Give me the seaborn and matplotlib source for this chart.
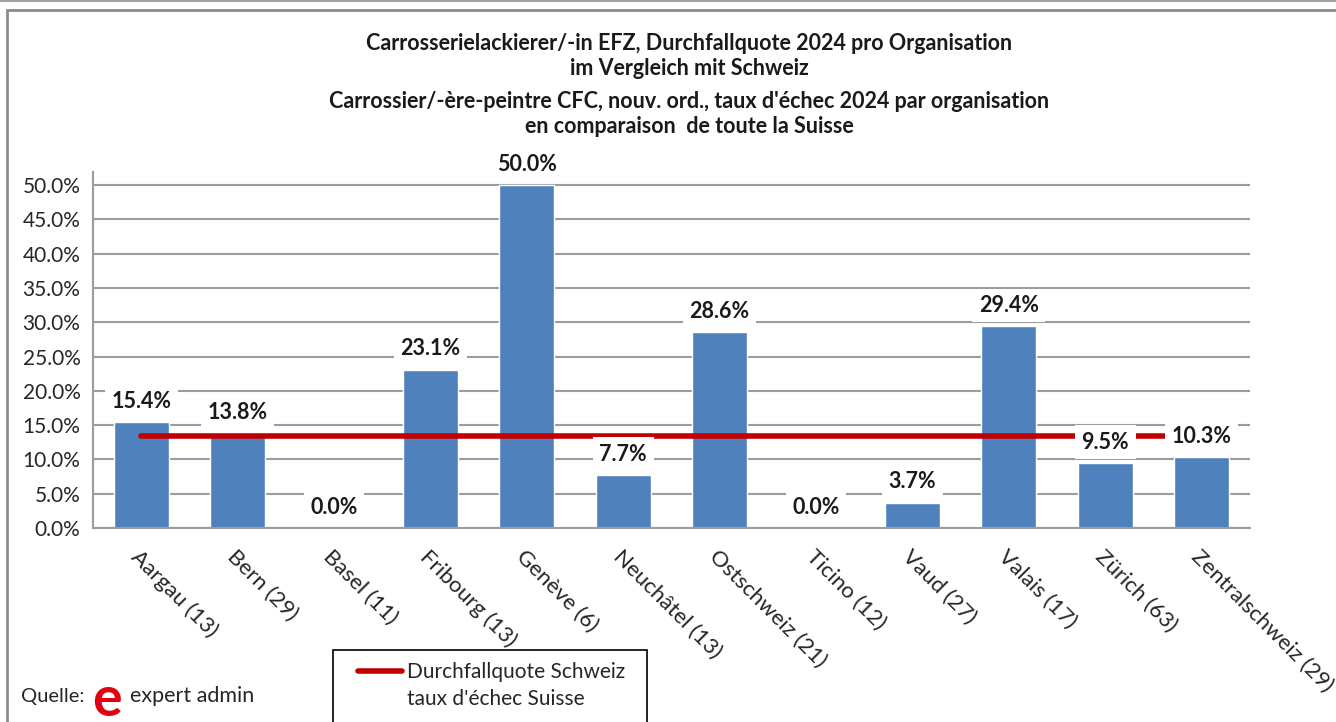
import matplotlib
matplotlib.use("Agg")
import matplotlib.pyplot as plt
import matplotlib.ticker as mticker
from matplotlib.patches import Rectangle
from matplotlib.lines import Line2D
import numpy as np
import pandas as pd
import seaborn as sns

# Data
regions = ["Aargau (13)", "Bern (29)", "Basel (11)", "Fribourg (13)", "Genève (6)",
           "Neuchâtel (13)", "Ostschweiz (21)", "Ticino (12)", "Vaud (27)",
           "Valais (17)", "Zürich (63)", "Zentralschweiz (29)"]
fail_rate = [0.154, 0.138, 0.0, 0.231, 0.500, 0.077, 0.286, 0.0, 0.037, 0.294, 0.095, 0.103]
swiss_rate = [0.134] * len(regions)

title_lines = ["Carrosserielackierer/-in EFZ, Durchfallquote 2024 pro Organisation",
               "im Vergleich mit Schweiz",
               "Carrossier/-ère-peintre CFC, nouv. ord., taux d'échec 2024 par organisation",
               "en comparaison  de toute la Suisse"]
legend_lines = ["Durchfallquote Schweiz", "taux d'échec Suisse"]

df = pd.DataFrame({"region": regions, "rate": fail_rate, "swiss": swiss_rate})

sns.set_style("white")
plt.rcParams["font.family"] = ["Lato", "DejaVu Sans"]

bar_col = "#4F81BD"
line_col = "#C00000"
grid_col = "#9C9C9C"
txt_col = "#262626"
fs = 15

fig = plt.figure(figsize=(13.36, 7.22), dpi=100)
ax = fig.add_axes([0.0696, 0.2687, 0.866, 0.493])

sns.barplot(data=df, x="region", y="rate", color=bar_col, width=0.57,
            saturation=1, ax=ax, zorder=2)
sns.lineplot(data=df, x="region", y="swiss", color=line_col, lw=4,
             ax=ax, zorder=3, legend=False, sort=False)

# data labels with white boxes
for i, v in enumerate(fail_rate):
    ax.annotate(f"{v*100:.1f}%", xy=(i, v), xytext=(0, 15), textcoords="offset points",
                ha="center", va="center", fontsize=15.5, fontweight="bold", color="#1a1a1a",
                bbox=dict(boxstyle="square,pad=0.3", fc="white", ec="none"), zorder=5)

ax.set_xlim(-0.5, len(regions) - 0.5)
ax.set_ylim(0, 0.519)
ax.yaxis.set_major_locator(mticker.FixedLocator(np.arange(0, 0.501, 0.05)))
ax.yaxis.set_major_formatter(mticker.PercentFormatter(1.0, decimals=1))
ax.grid(axis="y", color=grid_col, lw=1.5, zorder=0)
ax.set_axisbelow(True)
ax.set_xlabel("")
ax.set_ylabel("")

# x tick marks between categories
ax.set_xticks(np.arange(len(regions)))
ax.set_xticklabels(regions, rotation=-45, ha="left", va="top", rotation_mode="anchor",
                   fontsize=16, color=txt_col)
ax.set_xticks(np.arange(-0.5, len(regions)), minor=True)
ax.tick_params(axis="x", which="major", length=0, pad=13)
ax.tick_params(axis="x", which="minor", length=6, width=1.5, color=grid_col, direction="out")
ax.tick_params(axis="y", length=6, width=1.5, color=grid_col, direction="out",
               labelsize=fs, labelcolor=txt_col, pad=3)
for s in ["top", "right"]:
    ax.spines[s].set_visible(False)
for s in ["left", "bottom"]:
    ax.spines[s].set_color(grid_col)
    ax.spines[s].set_linewidth(1.5)

# title
title_y = [0.9404, 0.9058, 0.8601, 0.8241]
for t, y in zip(title_lines, title_y):
    fig.text(0.516, y, t, ha="center", va="center", fontsize=15.5,
             fontweight="bold", color="#1a1a1a")

# legend: red line beside the first text line only
handles = [Line2D([], [], color=line_col, lw=4), Line2D([], [], color="none")]
leg = fig.legend(handles=handles, labels=legend_lines,
                 loc="upper left", bbox_to_anchor=(0.268, 0.083), fontsize=fs,
                 frameon=False, handlelength=2.1, handletextpad=0.25,
                 borderpad=0, borderaxespad=0, labelspacing=0.35)
for t in leg.get_texts():
    t.set_color(txt_col)
fig.add_artist(Rectangle((0.2493, -0.02), 0.235, 0.1195, transform=fig.transFigure,
                         fill=False, ec="black", lw=1.2))

# source line
fig.text(0.016, 0.036, "Quelle:", fontsize=14.5, color=txt_col, va="center")
fig.text(0.069, 0.031, "e", fontsize=40, fontweight="bold", color="#E3000F", va="center")
fig.text(0.097, 0.036, "expert admin", fontsize=15.5, color=txt_col, va="center",
         fontstretch="condensed")

# outer frame
fig.add_artist(Rectangle((0.0052, -0.05), 1.1, 1.036, transform=fig.transFigure,
                         fill=False, ec="#8c8c8c", lw=2))
fig.add_artist(Line2D([0, 1], [0.998, 0.998], transform=fig.transFigure,
                      color="#a0a0a0", lw=1.5))

fig.savefig("out.png", dpi=100)
